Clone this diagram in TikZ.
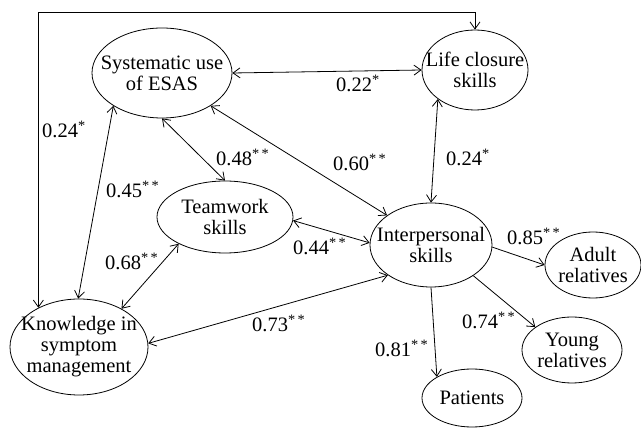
\documentclass[tikz,border=0pt]{standalone}
\usepackage{fontspec}
\setmainfont{Liberation Serif}
\usetikzlibrary{shapes.geometric,arrows.meta}
\newcommand{\sig}{\textsuperscript{*}}
\newcommand{\ssig}{\textsuperscript{*\,*}}

\begin{document}
\begin{tikzpicture}[
  x=1pt, y=-1pt,
  ell/.style={ellipse, draw, line width=0.8pt, inner sep=0pt},
  etxt/.style={align=center, inner sep=0pt, font=\fontsize{20.5}{21}\selectfont},
  wt/.style={anchor=base west, inner sep=0pt, font=\fontsize{20.5}{21}\selectfont},
  link/.style={line width=0.8pt, -{Straight Barb[length=7pt,width=10pt]}},
  both/.style={line width=0.8pt, {Straight Barb[length=7pt,width=10pt]}-{Straight Barb[length=7pt,width=10pt]}}
]
\useasboundingbox (0,0) rectangle (641,430);

% Constructs
\node[ell, minimum width=140pt, minimum height=90pt, label={[etxt]center:Systematic use\\of ESAS}] (esas) at (162,73) {};
\node[ell, minimum width=106pt, minimum height=80pt, label={[etxt]center:Life closure\\skills}] (life) at (475,70) {};
\node[ell, minimum width=136pt, minimum height=72pt, label={[etxt]center:Teamwork\\skills}] (team) at (225,217) {};
\node[ell, minimum width=138pt, minimum height=96pt, label={[etxt]center:Knowledge in\\symptom\\management}] (know) at (79,347) {};
\node[ell, minimum width=122pt, minimum height=84pt, label={[etxt]center:Interpersonal\\skills}] (inter) at (431,245) {};
\node[ell, minimum width=96pt, minimum height=66pt, label={[etxt]center:Adult\\relatives}] (adult) at (593,265) {};
\node[ell, minimum width=100pt, minimum height=66pt, label={[etxt]center:Young\\relatives}] (young) at (572,350) {};
\node[ell, minimum width=100pt, minimum height=58pt, label={[etxt]center:Patients}] (pat) at (472,398) {};

% Correlations
\coordinate (top) at (0,12);
\draw[both] (know.136) -- (know.136 |- top) -| (life.north);
\draw[both] (esas.0) -- (life.180);
\draw[both] (esas.-146) -- (know.91);
\draw[both] (esas.-90) -- (team.90);
\draw[both] (esas.-34) -- (inter.146);
\draw[both] (life.-142) -- (inter.90);
\draw[both] (team.-3) -- (inter.178);
\draw[both] (team.-150) -- (know.42);
\draw[both] (know.3) -- (inter.-145);

% Paths to outcomes
\draw[link] (inter.-2) -- (adult.180);
\draw[link] (inter.-36) -- (young.148);
\draw[link] (inter.-90) -- (pat.149);

% Weights
\node[wt] (w1) at (42,138) {0.24\sig};
\node[wt] (w2) at (336,92) {0.22\sig};
\node[wt] (w3) at (106,198) {0.45\ssig};
\node[wt] (w4) at (216,166) {0.48\ssig};
\node[wt] (w5) at (333,171) {0.60\ssig};
\node[wt] (w6) at (446,166) {0.24\sig};
\node[wt] (w7) at (293,255) {0.44\ssig};
\node[wt] (w8) at (105,270) {0.68\ssig};
\node[wt] (w9) at (252,332) {0.73\ssig};
\node[wt] (w10) at (507,245) {0.85\ssig};
\node[wt] (w11) at (462,329) {0.74\ssig};
\node[wt] (w12) at (375,357) {0.81\ssig};
\end{tikzpicture}
\end{document}
